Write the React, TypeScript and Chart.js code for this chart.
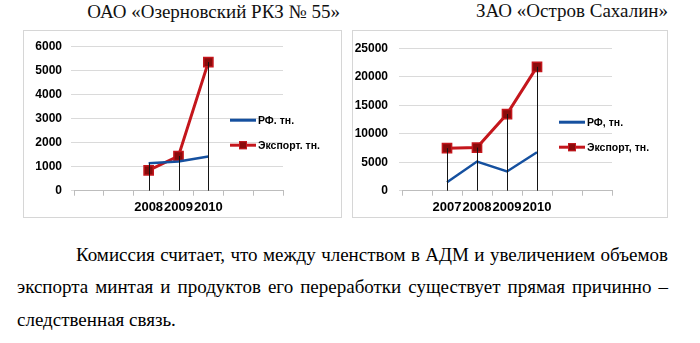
import React, { useEffect, useRef } from "react";
import { Chart, registerables } from "chart.js";

Chart.register(...registerables);

// ---- Data ----
const leftTitle = "ОАО «Озерновский РКЗ № 55»";
const leftCategories = ["", "", "2008", "2009", "2010", "", ""];
const leftRF = [null, null, 1140, 1210, 1420, null, null];
const leftExport = [null, null, 840, 1440, 5340, null, null];
const leftYMax = 6000;
const leftYStep = 1000;
const leftLegend = ["РФ. тн.", "Экспорт. тн."];

const rightTitle = "ЗАО «Остров Сахалин»";
const rightCategories = ["", "2007", "2008", "2009", "2010", "", ""];
const rightRF = [null, 1470, 5120, 3380, 6750, null, null];
const rightExport = [null, 7460, 7570, 13450, 21730, null, null];
const rightYMax = 25000;
const rightYStep = 5000;
const rightLegend = ["РФ, тн.", "Экспорт, тн."];

const paragraphLines = [
  "Комиссия считает, что между членством в АДМ и увеличением объемов",
  "экспорта минтая и продуктов его переработки существует прямая причинно –",
  "следственная связь.",
];

const BLUE = "#15509f";
const RED = "#c4161c";
const RED_FILL = "#8a0b0b";
const SANS = "'Liberation Sans', Arial, sans-serif";
const SERIF = "'Liberation Serif', 'Times New Roman', serif";

const dropLines = {
  id: "dropLines",
  afterDatasetsDraw(chart: any) {
    const { ctx } = chart;
    const x = chart.scales.x;
    const y = chart.scales.y;
    const n = chart.data.labels.length;
    ctx.save();
    ctx.strokeStyle = "#141414";
    ctx.lineWidth = 1;
    for (let i = 0; i < n; i++) {
      const vals = chart.data.datasets
        .map((d: any) => d.data[i])
        .filter((v: any) => v !== null && v !== undefined);
      if (!vals.length) continue;
      const top = Math.max(...vals);
      const px = Math.round(x.getPixelForValue(i)) + 0.5;
      ctx.beginPath();
      ctx.moveTo(px, y.getPixelForValue(top));
      ctx.lineTo(px, y.getPixelForValue(0));
      ctx.stroke();
    }
    ctx.restore();
  },
};

function makeLegend(labels: string[], dx: number, y1: number, y2: number) {
  return {
    id: "customLegend",
    afterDraw(chart: any) {
      const { ctx, chartArea } = chart;
      const x0 = chartArea.right - dx;
      const ya = chartArea.top + y1;
      const yb = chartArea.top + y2;
      ctx.save();
      ctx.lineCap = "butt";
      ctx.strokeStyle = BLUE;
      ctx.lineWidth = 3;
      ctx.beginPath();
      ctx.moveTo(x0, ya);
      ctx.lineTo(x0 + 26, ya);
      ctx.stroke();
      ctx.strokeStyle = RED;
      ctx.beginPath();
      ctx.moveTo(x0, yb);
      ctx.lineTo(x0 + 26, yb);
      ctx.stroke();
      ctx.fillStyle = RED_FILL;
      ctx.fillRect(x0 + 9, yb - 4, 8, 8);
      ctx.lineWidth = 1;
      ctx.strokeStyle = RED;
      ctx.strokeRect(x0 + 9.5, yb - 3.5, 7, 7);
      ctx.fillStyle = "#000";
      ctx.font = `bold 10.5px ${SANS}`;
      ctx.textBaseline = "middle";
      ctx.textAlign = "left";
      ctx.fillText(labels[0], x0 + 28, ya + 1);
      ctx.fillText(labels[1], x0 + 28, yb + 1);
      ctx.restore();
    },
  };
}

type ChartProps = {
  categories: string[];
  rf: (number | null)[];
  exp: (number | null)[];
  yMax: number;
  yStep: number;
  legend: string[];
  width: number;
  height: number;
  plotLeft: number;
  padRight: number;
  labelPad: number;
  xHeight: number;
};

function LineBox(p: ChartProps) {
  const ref = useRef<HTMLCanvasElement | null>(null);
  useEffect(() => {
    if (!ref.current) return;
    const chart = new Chart(ref.current, {
      type: "line",
      data: {
        labels: p.categories,
        datasets: [
          {
            label: p.legend[0],
            data: p.rf,
            borderColor: BLUE,
            backgroundColor: BLUE,
            borderWidth: 2.5,
            pointRadius: 0,
            tension: 0,
          },
          {
            label: p.legend[1],
            data: p.exp,
            borderColor: RED,
            backgroundColor: RED_FILL,
            borderWidth: 3,
            pointStyle: "rect",
            pointRadius: 6.5,
            pointBackgroundColor: RED_FILL,
            pointBorderColor: RED,
            pointBorderWidth: 1.5,
            tension: 0,
          },
        ],
      },
      options: {
        animation: false,
        responsive: false,
        devicePixelRatio: 1,
        layout: { padding: { top: 8, right: p.padRight, left: 0, bottom: 0 } },
        plugins: {
          legend: { display: false },
          tooltip: { enabled: false },
          title: { display: false },
        },
        scales: {
          x: {
            type: "category",
            offset: true,
            grid: {
              offset: true,
              drawOnChartArea: false,
              drawTicks: true,
              tickLength: 5,
              color: "#bdbdbd",
            },
            border: { display: true, color: "#bdbdbd" },
            ticks: {
              autoSkip: false,
              maxRotation: 0,
              minRotation: 0,
              padding: 4,
              color: "#000",
              font: { family: SANS, size: 13, weight: "bold" },
            },
            afterFit: (s: any) => {
              s.height = p.xHeight;
            },
          },
          y: {
            min: 0,
            max: p.yMax,
            ticks: {
              stepSize: p.yStep,
              padding: p.labelPad,
              color: "#000",
              font: { family: SANS, size: 12, weight: "bold" },
              callback: (v: any) => String(v),
            },
            grid: { color: "#dadada", tickLength: 3 },
            border: { display: false },
            afterFit: (s: any) => {
              s.width = p.plotLeft;
            },
          },
        },
      },
      plugins: [dropLines, makeLegend(p.legend, 53, 74, 99)],
    } as any);
    return () => chart.destroy();
  }, []);
  return <canvas ref={ref} width={p.width} height={p.height} style={{ display: "block" }} />;
}

export default function App() {
  const page: React.CSSProperties = {
    position: "absolute",
    left: 0,
    top: 0,
    width: 700,
    height: 343,
    background: "#fff",
    overflow: "hidden",
  };
  const titleStyle: React.CSSProperties = {
    position: "absolute",
    fontFamily: SERIF,
    fontSize: 19,
    lineHeight: "19px",
    color: "#111",
    whiteSpace: "nowrap",
    textAlign: "right",
  };
  const boxStyle: React.CSSProperties = {
    position: "absolute",
    boxSizing: "border-box",
    border: "1px solid #d6d6d6",
    background: "#fff",
  };
  const lineStyle: React.CSSProperties = {
    position: "absolute",
    fontFamily: SERIF,
    fontSize: 19,
    lineHeight: "19px",
    color: "#000",
  };
  return (
    <div style={page}>
      <div style={{ ...titleStyle, right: 700 - 340, top: 2 }}>{leftTitle}</div>
      <div style={{ ...titleStyle, right: 700 - 668, top: 1 }}>{rightTitle}</div>

      <div style={{ ...boxStyle, left: 23, top: 30, width: 319, height: 188 }}>
        <div style={{ position: "absolute", left: -1, top: -1 }}>
          <LineBox
            categories={leftCategories}
            rf={leftRF}
            exp={leftExport}
            yMax={leftYMax}
            yStep={leftYStep}
            legend={leftLegend}
            width={319}
            height={188}
            plotLeft={51}
            padRight={59}
            labelPad={9}
            xHeight={27.3}
          />
        </div>
      </div>

      <div style={{ ...boxStyle, left: 352, top: 30, width: 316, height: 188 }}>
        <div style={{ position: "absolute", left: -1, top: -1 }}>
          <LineBox
            categories={rightCategories}
            rf={rightRF}
            exp={rightExport}
            yMax={rightYMax}
            yStep={rightYStep}
            legend={rightLegend}
            width={316}
            height={188}
            plotLeft={50}
            padRight={56}
            labelPad={11}
            xHeight={27.3}
          />
        </div>
      </div>

      <div style={{ ...lineStyle, left: 76, top: 245, width: 592, textAlign: "justify", textAlignLast: "justify" }}>
        {paragraphLines[0]}
      </div>
      <div style={{ ...lineStyle, left: 17, top: 277, width: 651, textAlign: "justify", textAlignLast: "justify" }}>
        {paragraphLines[1]}
      </div>
      <div style={{ ...lineStyle, left: 17, top: 310, whiteSpace: "nowrap" }}>{paragraphLines[2]}</div>
    </div>
  );
}
